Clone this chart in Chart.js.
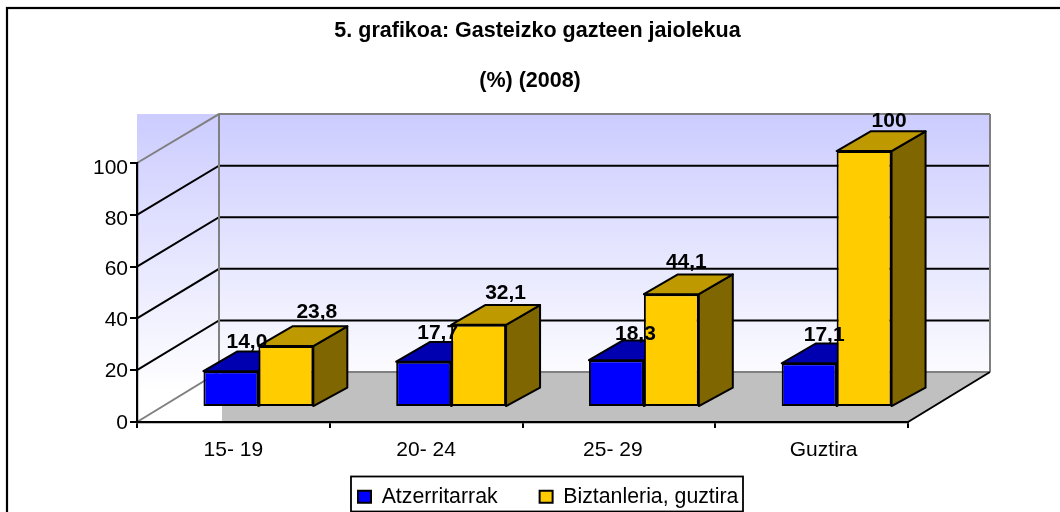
<!DOCTYPE html>
<html><head><meta charset="utf-8">
<style>html,body{margin:0;padding:0;background:#fff}canvas{display:block}</style>
<script src="https://cdn.jsdelivr.net/npm/chart.js@4"></script>
</head><body><canvas id="c" width="1060" height="512"></canvas>
<script>
const categories = ["15- 19","20- 24","25- 29","Guztira"];
const foreignLabel = "Atzerritarrak";
const totalLabel = "Biztanleria, guztira";
const foreignValues = [14.0,17.7,18.3,17.1];
const totalValues = [23.8,32.1,44.1,100];
const yTicks = [0,20,40,60,80,100];
const titleText = "5. grafikoa: Gasteizko gazteen jaiolekua";
const subtitleText = "(%) (2008)";

const FONT = "'Liberation Sans', Arial, sans-serif";
const wall = {dx:82, dy:-50, k:0.996};
const barShift = {dx:25, dy:-15, scale:0.988};
const depth = {dx:34, top:-20, base:-18.5};
const faces = [{top:"#0000b0",side:"#000080"},{top:"#bf9900",side:"#806600"}];
const labelNudge = [[[-1,-8.5],[-3,-8.5],[2,-5.5],[-2,-8]],[[14,-14],[10,-12],[-2,-11.5],[8,-10]]];
const xLabelNudge = [0,0,-6,12];
const yLabelNudge = {0:1,20:1,40:1.6,60:2.5,80:4,100:5};

function fmt(v){return v===100?"100":v.toFixed(1).replace(".",",");}

const plugin3d = {
  id:"plugin3d",
  afterLayout(chart){
    const find=t=>chart.boxes.find(b=>b.options&&b.options.text===t);
    const ti=find(titleText), su=find(subtitleText);
    ti.top=20; ti.bottom=42; ti.left=0; ti.right=1075;
    su.top=70; su.bottom=92; su.left=0; su.right=1060;
    const lg=chart.legend, p=lg.options.labels.padding;
    lg.left=358-p; lg.right=1060; lg.top=486-p; lg.bottom=512;
    const x=chart.scales.x,y=chart.scales.y;
    x.getLabelItems().forEach((it,i)=>{it.options.translation[0]+=xLabelNudge[i];});
    y.getLabelItems().forEach((it)=>{it.options.translation[1]+=yLabelNudge[it.label]||0;});
  },
  beforeDraw(chart){
    const c=chart.ctx, y=chart.scales.y, a=chart.chartArea;
    const L=a.left,R=a.right,B=y.getPixelForValue(0),T=y.getPixelForValue(100);
    const backY=py=>B+wall.dy-(B-py)*wall.k;
    c.save();
    c.fillStyle="#fff";c.fillRect(0,0,1060,512);
    c.strokeStyle="#000";c.lineWidth=2.2;
    c.strokeRect(7,8,1100,600);
    const bT=backY(T),bB=backY(B),bL=L+wall.dx,bR=R+wall.dx;
    const g=c.createLinearGradient(0,bT,0,bB+20);
    g.addColorStop(0,"#ccccff");g.addColorStop(1,"#ffffff");
    c.fillStyle=g;
    c.fillRect(bL,bT,bR-bL,bB-bT);
    c.fillRect(L,bT,bL-L,B-bT);
    c.fillStyle="#c0c0c0";
    c.beginPath();c.moveTo(bL+3,bB);c.lineTo(bR,bB);c.lineTo(R,B);c.lineTo(bL+3,B);c.closePath();c.fill();
    yTicks.forEach(v=>{
      const py=y.getPixelForValue(v), edge=(v===0||v===100);
      c.strokeStyle=edge?"#808080":"#000";c.lineWidth=2;
      c.beginPath();c.moveTo(L,py);c.lineTo(bL,backY(py));c.lineTo(bR,backY(py));c.stroke();
    });
    c.strokeStyle="#808080";c.lineWidth=2;
    c.beginPath();c.moveTo(bL,bT);c.lineTo(bL,bB);c.moveTo(bR,bT);c.lineTo(bR,bB);c.stroke();
    c.strokeStyle="#000";c.lineWidth=2;
    c.beginPath();c.moveTo(bR,bB);c.lineTo(R,B);c.stroke();
    c.strokeStyle="#000";c.lineWidth=1.8;
    c.strokeRect(351,476.5,392,35);
    c.restore();
  },
  beforeDatasetsDraw(chart){
    const c=chart.ctx,y0=chart.scales.y.getPixelForValue(0);
    chart.data.datasets.forEach((ds,idx)=>{
      const meta=chart.getDatasetMeta(idx), f=faces[idx];
      c.save();
      c.translate(barShift.dx,barShift.dy);
      c.translate(0,y0);c.scale(1,barShift.scale);c.translate(0,-y0);
      c.lineWidth=2;c.strokeStyle="#000";c.lineJoin="round";
      meta.data.forEach(el=>{
        const p=el.getProps(["x","y","base","width"],true);
        const l=p.x-p.width/2,r=p.x+p.width/2;
        c.fillStyle=f.side;
        c.beginPath();c.moveTo(r,p.y);c.lineTo(r+depth.dx,p.y+depth.top);c.lineTo(r+depth.dx,p.base+depth.base);c.lineTo(r,p.base);c.closePath();c.fill();c.stroke();
        c.fillStyle=f.top;
        c.beginPath();c.moveTo(l,p.y);c.lineTo(l+depth.dx,p.y+depth.top);c.lineTo(r+depth.dx,p.y+depth.top);c.lineTo(r,p.y);c.closePath();c.fill();c.stroke();
        el.draw(c);
      });
      c.restore();
    });
    c.save();c.fillStyle="#000";c.font="bold 21px "+FONT;c.textAlign="center";c.textBaseline="middle";
    chart.data.datasets.forEach((ds,i)=>{
      chart.getDatasetMeta(i).data.forEach((el,j)=>{
        const p=el.getProps(["x","y"],true);
        const n=labelNudge[i][j];
        const py=y0+(p.y-y0)*barShift.scale+barShift.dy+depth.top;
        c.fillText(fmt(ds.data[j]),p.x+barShift.dx+depth.dx/2+n[0],py+n[1]);
      });
    });
    c.restore();
    return false;
  }
};

new Chart(document.getElementById("c"),{
  type:"bar",
  data:{labels:categories,datasets:[
    {label:foreignLabel,data:foreignValues,backgroundColor:"#0000ff",borderColor:"#000",borderWidth:2,borderSkipped:false,clip:false},
    {label:totalLabel,data:totalValues,backgroundColor:"#ffcc00",borderColor:"#000",borderWidth:2,borderSkipped:false,clip:false}
  ]},
  plugins:[plugin3d],
  options:{
    responsive:false,animation:false,
    layout:{padding:{left:0,right:152,top:0,bottom:0}},
    datasets:{bar:{categoryPercentage:0.57,barPercentage:1}},
    plugins:{
      tooltip:{enabled:false},
      title:{display:true,text:titleText,color:"#000",font:{family:FONT,size:21.5,weight:"bold",lineHeight:1},padding:{top:0,bottom:120}},
      subtitle:{display:true,text:subtitleText,color:"#000",font:{family:FONT,size:21.5,weight:"bold",lineHeight:1},padding:0},
      legend:{position:"bottom",align:"start",maxHeight:36,labels:{color:"#000",font:{family:FONT,size:21.3},boxWidth:13,boxHeight:12,padding:42}}
    },
    scales:{
      x:{grid:{drawOnChartArea:false,drawTicks:true,tickLength:6,color:"#000",lineWidth:2},
         border:{color:"#000",width:2.2},
         ticks:{color:"#000",font:{family:FONT,size:21},padding:10,maxRotation:0,autoSkip:false},
         afterFit(s){s.height=54;}},
      y:{min:0,max:100,grid:{drawOnChartArea:false,drawTicks:true,tickLength:7,color:"#000",lineWidth:2},
         border:{color:"#000",width:2.2},
         ticks:{stepSize:20,color:"#000",font:{family:FONT,size:21},padding:2},
         afterFit(s){s.width=137;}}
    }
  }
});
</script></body></html>
